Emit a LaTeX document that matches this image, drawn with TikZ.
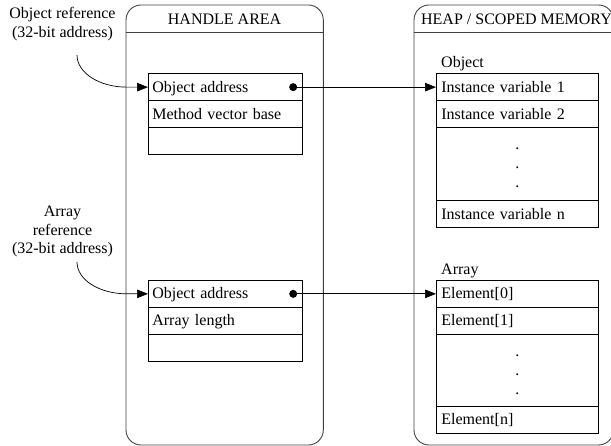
\documentclass[tikz,border=0pt]{standalone}
\usepackage{fontspec}
\setmainfont{Liberation Serif}
\usetikzlibrary{arrows.meta}
\begin{document}
\begin{tikzpicture}[x=1pt,y=-1pt,
  font=\fontsize{16}{18.5}\selectfont,
  container/.style={draw=black!75, line width=0.9pt, rounded corners=15pt},
  rowbox/.style={draw, line width=0.7pt, anchor=north west, minimum height=27pt,
    text height=12.5pt, text depth=2.5pt, align=left, inner ysep=0pt},
  hrow/.style={rowbox, text width=145.5pt, minimum width=153.5pt, inner xsep=4pt},
  orow/.style={rowbox, text width=152pt, minimum width=162pt, inner xsep=5pt},
  tallrow/.style={draw, line width=0.7pt, anchor=north west, minimum width=162pt, inner sep=0pt},
  arr/.style={line width=0.7pt, -{Triangle[length=11pt,width=8.5pt]}},
  lbl/.style={inner sep=0pt, anchor=base},
  dotc/.style={inner sep=0pt, anchor=base}
]
\useasboundingbox (0,0) rectangle (611,446);

% containers
\draw[container] (126,445) -- (126,5) -- (323.3,5) -- (323.3,445) -- cycle;
\draw[container] (414,445) -- (414,5) -- (613.5,5) -- (613.5,445) -- cycle;
\draw[draw=black!75, line width=0.9pt] (126,32.3) -- (323.3,32.3);
\draw[draw=black!75, line width=0.9pt] (414,32.3) -- (611,32.3);
\node[lbl] (thandle) at (224.6,24.3) {HANDLE AREA};
\node[lbl] (theap) at (516.5,24.3) {HEAP / SCOPED MEMORY};

% left labels
\node[lbl] (oref1) at (62.5,19) {Object reference};
\node[lbl] (oref2) at (62.5,37.5) {(32-bit address)};
\node[lbl] (aref1) at (62.5,216.7) {Array};
\node[lbl] (aref2) at (62.5,235.2) {reference};
\node[lbl] (aref3) at (62.5,253.7) {(32-bit address)};
\coordinate (ostart) at (77,55);
\coordinate (astart) at (77,262);

% handle: object
\node[hrow] (ho1) at (148,73.3) {Object address};
\node[hrow] (ho2) at (148,100.3) {Method vector base};
\node[hrow] (ho3) at (148,127.3) {};
% handle: array
\node[hrow] (ha1) at (148,280) {Object address};
\node[hrow] (ha2) at (148,307) {Array length};
\node[hrow] (ha3) at (148,334) {};

% heap: object
\node[lbl, anchor=base west] (objl) at (441,68) {Object};
\node[orow] (o1) at (436,73.3) {Instance variable 1};
\node[orow] (o2) at (436,100.3) {Instance variable 2};
\node[tallrow, minimum height=73pt] (o3) at (436,127.3) {};
\node[orow] (o4) at (436,200.3) {Instance variable n};
\node[dotc] (od1) at (517.3,149.3) {.};
\node[dotc] (od2) at (517.3,168.3) {.};
\node[dotc] (od3) at (517.3,187.3) {.};

% heap: array
\node[lbl, anchor=base west] (arrl) at (441,275) {Array};
\node[orow] (a1) at (436,280) {Element[0]};
\node[orow] (a2) at (436,307) {Element[1]};
\node[tallrow, minimum height=72pt] (a3) at (436,334) {};
\node[orow] (a4) at (436,406) {Element[n]};
\node[dotc] (ad1) at (517.3,356.6) {.};
\node[dotc] (ad2) at (517.3,375.6) {.};
\node[dotc] (ad3) at (517.3,394.9) {.};

% reference curves
\draw[arr] (ostart) .. controls +(0,18) and +(-27.5,0) .. ([xshift=-21pt]ho1.west) -- (ho1.west);
\draw[arr] (astart) .. controls +(0,18) and +(-27.5,0) .. ([xshift=-21pt]ha1.west) -- (ha1.west);

% pointer connectors
\coordinate (pdo) at ([xshift=-9pt]ho1.east);
\coordinate (pda) at ([xshift=-9pt]ha1.east);
\fill (pdo) circle (4pt);
\fill (pda) circle (4pt);
\draw[arr] (pdo) -- (o1.west);
\draw[arr] (pda) -- (a1.west);
\end{tikzpicture}
\end{document}
